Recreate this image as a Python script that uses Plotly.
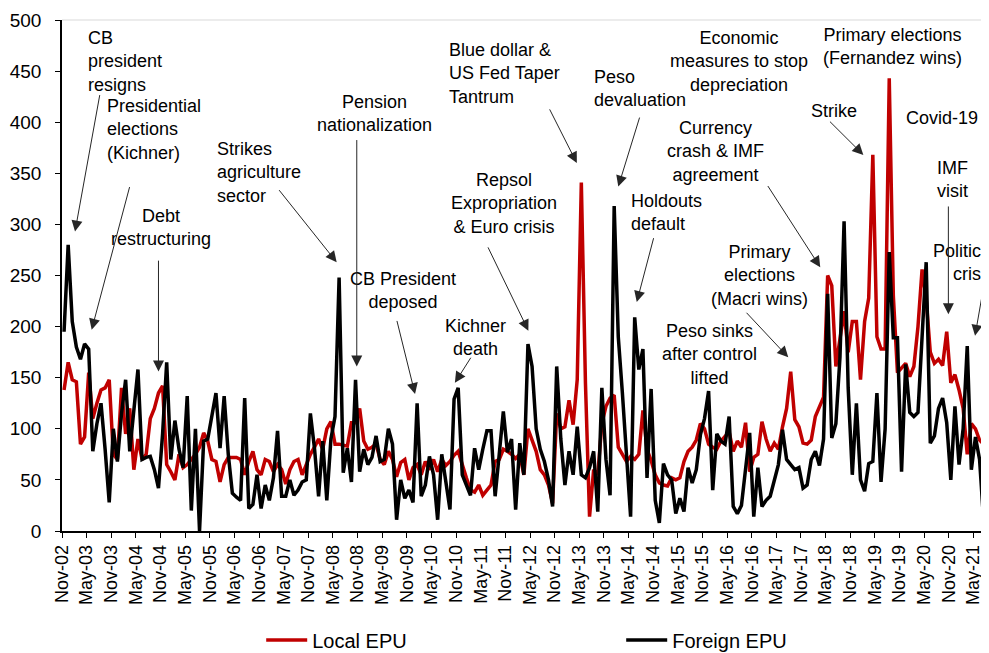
import numpy as np
import pandas as pd
import plotly.graph_objects as go

# monthly observations, Nov-2002 onwards
months = pd.date_range("2002-11-01", periods=226, freq="MS")

local_epu = [
    138, 165, 148, 146, 85, 92, 155, 110, 125, 138,
    140, 148, 75, 70, 140, 95, 120, 60, 90, 70,
    75, 110, 120, 135, 142, 65, 58, 50, 75, 62,
    65, 70, 75, 82, 96, 88, 70, 68, 48, 65,
    72, 72, 72, 70, 55, 68, 78, 60, 55, 70,
    68, 58, 65, 60, 46, 60, 68, 70, 55, 65,
    75, 82, 90, 80, 100, 107, 85, 85, 84, 83,
    106, 106, 120, 88, 80, 82, 85, 70, 65, 78,
    70, 53, 67, 70, 50, 62, 65, 55, 68, 60,
    70, 58, 70, 64, 68, 74, 78, 64, 52, 40,
    38, 45, 35, 40, 45, 68, 70, 80, 78, 75,
    71, 75, 55, 100, 90, 78, 60, 55, 45, 27,
    115, 100, 102, 128, 104, 148, 341, 145, 14, 60,
    55, 105, 122, 130, 133, 82, 75, 68, 73, 70,
    75, 118, 80, 69, 55, 47, 45, 44, 52, 50,
    52, 68, 78, 82, 89, 105, 100, 85, 82, 80,
    88, 92, 97, 78, 88, 82, 106, 58, 72, 75,
    107, 90, 78, 86, 80, 102, 120, 156, 109, 102,
    86, 85, 89, 112, 122, 131, 250, 240, 161, 191,
    215, 175, 205, 205, 148, 205, 228, 368, 190, 178,
    178, 443, 230, 155, 160, 164, 151, 161, 200, 256,
    227, 175, 164, 168, 162, 195, 145, 153, 138, 120,
    75, 105, 100, 89, 85, 79,
]

foreign_epu = [
    195, 280, 205, 180, 168, 183, 178, 78, 105, 125,
    80, 28, 100, 68, 115, 148, 78, 120, 158, 70,
    72, 73, 60, 42, 95, 165, 70, 108, 80, 62,
    132, 20, 100, 0, 88, 90, 115, 135, 81, 132,
    75, 37, 33, 30, 130, 22, 26, 55, 22, 45,
    30, 52, 98, 34, 34, 50, 35, 40, 48, 50,
    115, 81, 34, 88, 30, 90, 112, 248, 57, 81,
    48, 148, 58, 80, 65, 72, 93, 68, 70, 100,
    85, 11, 50, 32, 40, 28, 125, 34, 45, 73,
    55, 11, 75, 45, 21, 129, 140, 55, 46, 35,
    81, 60, 80, 98, 98, 34, 75, 117, 77, 90,
    21, 86, 55, 183, 161, 100, 80, 68, 50, 24,
    161, 90, 45, 78, 55, 102, 55, 52, 62, 78,
    19, 140, 70, 35, 318, 190, 135, 80, 14, 209,
    158, 178, 52, 139, 30, 8, 66, 55, 50, 17,
    32, 19, 62, 47, 60, 94, 110, 137, 40, 95,
    88, 85, 112, 24, 17, 25, 60, 96, 14, 62,
    24, 30, 34, 50, 65, 99, 70, 65, 60, 62,
    42, 45, 70, 78, 64, 90, 232, 91, 105, 170,
    303, 140, 55, 125, 50, 39, 66, 68, 135, 48,
    100, 273, 189, 189, 58, 163, 116, 112, 116, 190,
    263, 86, 93, 120, 130, 106, 50, 122, 65, 100,
    181, 60, 92, 70, 9, 66,
]

tick_labels = [m.strftime("%b-%y") for m in months[::6]]

# event labels: text, x (months since Nov-02), top y, anchor
events = [
    ("CB<br>president<br>resigns", 5.85, 494, "left"),
    ("Presidential<br>elections<br>(Kichner)", 10.5, 428, "left"),
    ("Debt<br>restructuring", 24.2, 320, "center"),
    ("Strikes<br>agriculture<br>sector", 37.3, 386, "left"),
    ("Pension<br>nationalization", 76.2, 432, "center"),
    ("CB President<br>deposed", 83.0, 258, "center"),
    ("Kichner<br>death", 100.6, 212, "center"),
    ("Repsol<br>Expropriation<br>& Euro crisis", 107.7, 355, "center"),
    ("Blue dollar &<br>US Fed Taper<br>Tantrum", 93.8, 482, "left"),
    ("Peso<br>devaluation", 129.1, 456, "left"),
    ("Holdouts<br>default", 138.1, 335, "left"),
    ("Economic<br>measures to stop<br>depreciation", 164.9, 494, "center"),
    ("Currency<br>crash & IMF<br>agreement", 159.3, 406, "center"),
    ("Primary<br>elections<br>(Macri wins)", 170.0, 285, "center"),
    ("Peso sinks<br>after control<br>lifted", 157.6, 207, "center"),
    ("Primary elections<br>(Fernandez wins)", 202.4, 497, "center"),
    ("Strike", 188.1, 423, "center"),
    ("Covid-19", 214.4, 416, "center"),
    ("IMF<br>visit", 216.8, 367, "center"),
    ("Political<br>\u00a0\u00a0\u00a0\u00a0crisis", 211.7, 286, "left"),
]

# arrows: tail x, tail y, head x, head y
arrows = [
    (9.26, 428, 3.17, 293),
    (16.56, 338, 7.23, 197),
    (23.5, 266, 23.5, 156),
    (52.6, 335, 66.9, 263),
    (71.8, 384, 71.8, 161),
    (81.5, 207, 86.0, 134),
    (99.8, 171, 95.7, 145),
    (103.6, 279, 113.6, 196),
    (118.6, 414, 125.4, 360),
    (140.8, 406, 135.5, 337),
    (144.2, 288, 140.0, 224),
    (171.7, 339, 184.7, 258),
    (166.4, 215, 176.9, 170),
    (186.7, 402, 195.2, 368),
    (215.9, 319, 215.9, 212),
    (224.4, 237, 222.4, 191),
]

FONT = "Liberation Sans, Arial, sans-serif"
x = np.arange(len(months)) + 0.5

fig = go.Figure()
fig.add_trace(go.Scatter(x=x, y=local_epu, name="Local EPU", mode="lines",
                         line=dict(color="#C00000", width=3.5)))
fig.add_trace(go.Scatter(x=x, y=foreign_epu, name="Foreign EPU", mode="lines",
                         line=dict(color="black", width=3.5)))

annots = []
for txt, ex, ey, anchor in events:
    annots.append(dict(x=ex, y=ey, xref="x", yref="y", text=txt, showarrow=False,
                       xanchor=anchor, yanchor="top", align="center" if anchor == "center" else "left",
                       font=dict(size=18, color="black", family=FONT)))
for tx, ty, hx, hy in arrows:
    annots.append(dict(x=hx, y=hy, ax=tx, ay=ty, xref="x", yref="y", axref="x", ayref="y",
                       text="", showarrow=True, arrowhead=2, arrowsize=2.2, arrowwidth=1,
                       arrowcolor="#262626", standoff=0))

# the page body adds an 8px offset, so the figure is shrunk to fit the window
fig.update_layout(
    width=981, height=645,
    margin=dict(l=54, r=0, t=12, b=122, autoexpand=False),
    plot_bgcolor="white", paper_bgcolor="white",
    font=dict(family=FONT, color="black", size=18),
    annotations=annots,
    shapes=[dict(type="line", xref="paper", yref="paper", x0=0, x1=1, y0=1, y1=1,
                 line=dict(color="#d9d9d9", width=1))],
    legend=dict(orientation="h", xref="container", yref="container", x=0.2581, y=0.0202,
                xanchor="left", yanchor="middle", entrywidth=304, entrywidthmode="pixels",
                itemwidth=41, font=dict(size=20), bgcolor="rgba(0,0,0,0)", traceorder="normal"),
)

fig.update_xaxes(range=[0, 225.8], tickmode="array", tickvals=list(range(0, len(months), 6)),
                 ticktext=tick_labels, tickangle=-90, showline=True, linecolor="black", linewidth=1.5,
                 ticks="outside", ticklen=5, tickcolor="black", showgrid=False, zeroline=False,
                 tickfont=dict(size=18), automargin=False)
fig.update_yaxes(range=[0, 500], dtick=50, showline=True, linecolor="black", linewidth=1.5,
                 ticks="outside", ticklen=5, tickcolor="black", showgrid=False, zeroline=False,
                 tickfont=dict(size=19), ticklabelstandoff=10, automargin=False)

fig.write_html("out.html")
